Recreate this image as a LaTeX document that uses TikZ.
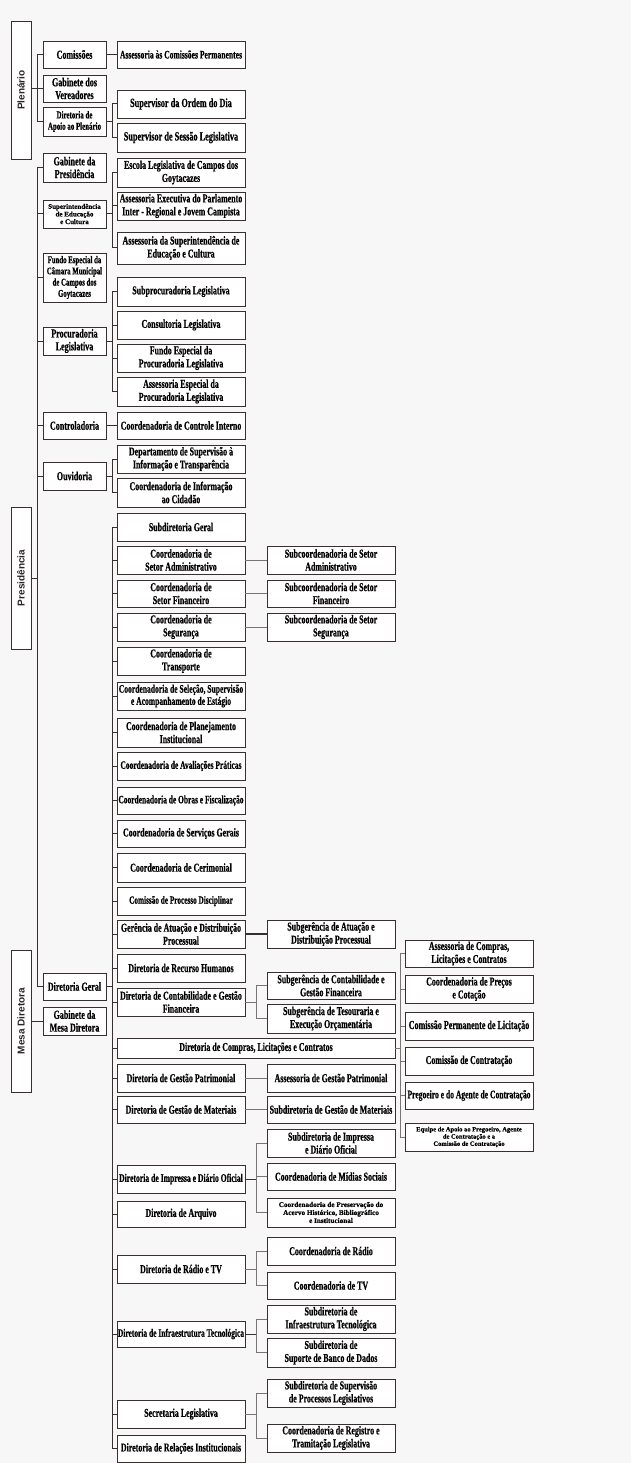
\documentclass[tikz,border=0pt]{standalone}
\usepackage{fontspec}
\usepackage{graphicx}
\newfontfamily\tnr[FakeStretch=0.66,BoldFeatures={FakeBold=0.6}]{Liberation Serif}
\newfontfamily\tnrw[BoldFeatures={FakeBold=0.4}]{Liberation Serif}
\newfontfamily\lsans{Liberation Sans}
\usetikzlibrary{shadows}
\definecolor{lc}{RGB}{58,46,46}
\definecolor{lg}{RGB}{125,115,115}
\definecolor{bg}{RGB}{247,247,247}
\tikzset{
 box/.style={draw=lc, line width=0.9pt, fill=white, inner sep=0.3pt, align=center, text=black,
   drop shadow={shadow xshift=0.8pt, shadow yshift=-1pt, opacity=0.22}},
 h/.style={minimum height=#1pt},
 fs/.style 2 args={font=\tnr\bfseries\fontsize{#1}{#2}\selectfont},
 fw/.style 2 args={font=\tnrw\bfseries\fontsize{#1}{#2}\selectfont},
 cA/.style={box, fs={12.2}{12.8}, minimum width=63pt, h=28},
 cB/.style={box, fs={12}{13}, minimum width=128pt, h=28},
 cC/.style={cB},
 cD/.style={cB},
 vlab/.style={box, minimum width=20pt, text=black!85, font=\lsans\bfseries\fontsize{10}{11}\selectfont},
 ln/.style={draw=lc, line width=1pt},
 lt/.style={draw=lg, line width=0.6pt},
 lk/.style={draw=lc, line width=1.8pt},
}
\begin{document}
\begin{tikzpicture}[x=1pt,y=-1pt]
\useasboundingbox (0,0) rectangle (631,1463);
\fill[bg] (0,0) rectangle (631,1463);
\coordinate (tp) at (37,0);
\coordinate (bA) at (112,0);
\coordinate (bB) at (256,0);
\coordinate (bC) at (400,0);
% vertical labels
\node[vlab, h=138] (plen) at (21,90) {\rotatebox{90}{Plenário}};
\node[vlab, h=142] (pres) at (21,578) {\rotatebox{90}{Presidência}};
\node[vlab, h=142] (mesa) at (21,1021) {\rotatebox{90}{Mesa Diretora}};
% column A
\node[cA, h=27] (comis) at (74.5,54.5) {Comissões};
\node[cA, h=27] (gabver) at (74.5,88.5) {Gabinete dos\\Vereadores};
\node[cA, h=29, fs={10.5}{11.3}] (dirapoio) at (74.5,121.5) {Diretoria de\\Apoio ao Plenário};
\node[cA, h=29] (gabpres) at (74.5,167.5) {Gabinete da\\Presidência};
\node[cA, fw={7}{7.6}] (superint) at (74.5,214) {Superintendência\\de Educação\\e Cultura};
\node[cA, h=49, fs={10.3}{11.2}] (fundo) at (74.5,277.5) {Fundo Especial da\\Câmara Municipal\\de Campos dos\\Goytacazes};
\node[cA] (procur) at (74.5,341) {Procuradoria\\Legislativa};
\node[cA, h=27] (control) at (74.5,425.5) {Controladoria};
\node[cA] (ouvid) at (74.5,476) {Ouvidoria};
\node[cA, h=27] (dirgeral) at (74.5,986.5) {Diretoria Geral};
\node[cA] (gabmesa) at (74.5,1021) {Gabinete da\\Mesa Diretora};
% column B
\node[cB, h=27, fs={11.5}{12.5}] (asscom) at (181,54.5) {Assessoria às Comissões Permanentes};
\node[cB, fs={12.5}{13}] (supord) at (181,104) {Supervisor da Ordem do Dia};
\node[cB, h=29, fs={12.5}{13}] (supses) at (181,137.5) {Supervisor de Sessão Legislativa};
\node[cB, h=29] (escola) at (181,172.5) {Escola Legislativa de Campos dos\\Goytacazes};
\node[cB] (assexec) at (181,206) {Assessoria Executiva do Parlamento\\Inter - Regional e Jovem Campista};
\node[cB, h=32] (asssup) at (181,248) {Assessoria da Superintendência de\\Educação e Cultura};
\node[cB, h=29] (subproc) at (181,291.5) {Subprocuradoria Legislativa};
\node[cB] (consult) at (181,325) {Consultoria Legislativa};
\node[cB] (fundoproc) at (181,358) {Fundo Especial da\\Procuradoria Legislativa};
\node[cB, h=29] (assesp) at (181,391.5) {Assessoria Especial da\\Procuradoria Legislativa};
\node[cB, h=27] (ctrlint) at (181,425.5) {Coordenadoria de Controle Interno};
\node[cB] (deptsup) at (181,459) {Departamento de Supervisão à\\Informação e Transparência};
\node[cB, h=29] (coordinf) at (181,492.5) {Coordenadoria de Informação\\ao Cidadão};
\node[cB] (subdirg) at (181,527) {Subdiretoria Geral};
\node[cB] (cadm) at (181,560) {Coordenadoria de\\Setor Administrativo};
\node[cB, h=27] (cfin) at (181,593.5) {Coordenadoria de\\Setor Financeiro};
\node[cB] (cseg) at (181,627) {Coordenadoria de\\Segurança};
\node[cB] (ctransp) at (181,661) {Coordenadoria de\\Transporte};
\node[cB, fs={11.5}{12.2}] (csel) at (181,696) {Coordenadoria de Seleção, Supervisão\\e Acompanhamento de Estágio};
\node[cB, h=29] (cplan) at (181,732.5) {Coordenadoria de Planejamento\\Institucional};
\node[cB, fs={11.3}{12.5}] (caval) at (181,766) {Coordenadoria de Avaliações Práticas};
\node[cB, h=27, fs={11.3}{12.5}] (cobras) at (181,800.5) {Coordenadoria de Obras e Fiscalização};
\node[cB, h=27] (cserv) at (181,833.5) {Coordenadoria de Serviços Gerais};
\node[cB, h=29] (cceri) at (181,867.5) {Coordenadoria de Cerimonial};
\node[cB, fs={11}{12}] (cproc) at (181,901) {Comissão de Processo Disciplinar};
\node[cB] (gerat) at (181,934) {Gerência de Atuação e Distribuição\\Processual};
\node[cB] (dirrh) at (181,968) {Diretoria de Recurso Humanos};
\node[cB] (dircont) at (181,1002) {Diretoria de Contabilidade e Gestão\\Financeira};
\node[box, fs={12}{13}, minimum width=278pt, h=20] (dircomp) at (256,1048) {Diretoria de Compras, Licitações e Contratos};
\node[cB] (dirpat) at (181,1078) {Diretoria de Gestão Patrimonial};
\node[cB, h=27] (dirmat) at (181,1109.5) {Diretoria de Gestão de Materiais};
\node[cB, fs={11.6}{12.5}] (dirimp) at (181,1179) {Diretoria de Impressa e Diário Oficial};
\node[cB, h=26] (dirarq) at (181,1214) {Diretoria de Arquivo};
\node[cB] (dirradio) at (181,1269) {Diretoria de Rádio e TV};
\node[cB, h=26, fs={11.3}{12.5}] (dirinfra) at (181,1334) {Diretoria de Infraestrutura Tecnológica};
\node[cB] (secleg) at (181,1414) {Secretaria Legislativa};
\node[cB, h=27] (dirrel) at (181,1448.5) {Diretoria de Relações Institucionais};
% column C
\node[cC] (sadm) at (331,560) {Subcoordenadoria de Setor\\Administrativo};
\node[cC, h=27] (sfin) at (331,593.5) {Subcoordenadoria de Setor\\Financeiro};
\node[cC] (sseg) at (331,627) {Subcoordenadoria de Setor\\Segurança};
\node[cC] (sgat) at (331,934) {Subgerência de Atuação e\\Distribuição Processual};
\node[cC, h=27] (sgcont) at (331,985.5) {Subgerência de Contabilidade e\\Gestão Financeira};
\node[cC, h=29] (sgtes) at (331,1018.5) {Subgerência de Tesouraria e\\Execução Orçamentária};
\node[cC] (assgp) at (331,1078) {Assessoria de Gestão Patrimonial};
\node[cC, h=27] (subdmat) at (331,1109.5) {Subdiretoria de Gestão de Materiais};
\node[cC] (subdimp) at (331,1143) {Subdiretoria de Impressa\\e Diário Oficial};
\node[cC, h=27] (cmidias) at (331,1176.5) {Coordenadoria de Mídias Sociais};
\node[cC, h=29, fw={7.2}{8}] (cpres) at (331,1212.5) {Coordenadoria de Preservação do\\Acervo Histórico, Bibliográfico\\e Institucional};
\node[cC] (crad) at (331,1251) {Coordenadoria de Rádio};
\node[cC, h=27] (ctv) at (331,1285.5) {Coordenadoria de TV};
\node[cC] (sdinfra) at (331,1319) {Subdiretoria de\\Infraestrutura Tecnológica};
\node[cC, h=29] (sdbanco) at (331,1352.5) {Subdiretoria de\\Suporte de Banco de Dados};
\node[cC] (sdsup) at (331,1393) {Subdiretoria de Supervisão\\de Processos Legislativos};
\node[cC] (creg) at (331,1438) {Coordenadoria de Registro e\\Tramitação Legislativa};
% column D
\node[cD, h=27] (dacomp) at (469,953.5) {Assessoria de Compras,\\Licitações e Contratos};
\node[cD] (dpreco) at (469,989) {Coordenadoria de Preços\\e Cotação};
\node[cD, fs={12.2}{13}] (dcpl) at (469,1026) {Comissão Permanente de Licitação};
\node[cD] (dccont) at (469,1061) {Comissão de Contratação};
\node[cD, h=27, fs={11.5}{12.5}] (dpreg) at (469,1095.5) {Pregoeiro e do Agente de Contratação};
\node[cD, fw={6.5}{7.2}] (dequipe) at (469,1137) {Equipe de Apoio ao Pregoeiro, Agente\\de Contratação e a\\Comissão de Contratação};
% ---- connectors: Plenário
\draw[ln] (plen.east |- gabver.west) -- (gabver.west);
\draw[ln] (comis.west) -- (tp |- comis.west) -- (tp |- dirapoio.west) -- (dirapoio.west);
\draw[ln] (comis.east) -- (asscom.west);
\draw[ln] (dirapoio.east) -- (bA |- dirapoio.east);
\draw[ln] (supord.west) -- (bA |- supord.west) -- (bA |- supses.west) -- (supses.west);
% Presidência
\draw[ln] (pres.east) -- (tp |- pres.east);
\draw[ln] (gabpres.west) -- (tp |- gabpres.west) -- (tp |- dirgeral.west) -- (dirgeral.west);
\foreach \n in {superint,fundo,procur,control,ouvid} \draw[ln] (tp |- \n.west) -- (\n.west);
\draw[ln] (superint.east) -- (bA |- superint.east);
\draw[ln] (escola.west) -- (bA |- escola.west) -- (bA |- asssup.west) -- (asssup.west);
\draw[ln] (bA |- assexec.west) -- (assexec.west);
\draw[ln] (procur.east) -- (bA |- procur.east);
\draw[ln] (subproc.west) -- (bA |- subproc.west) -- (bA |- assesp.west) -- (assesp.west);
\foreach \n in {consult,fundoproc} \draw[ln] (bA |- \n.west) -- (\n.west);
\draw[ln] (control.east) -- (ctrlint.west);
\draw[ln] (ouvid.east) -- (bA |- ouvid.east);
\draw[ln] (deptsup.west) -- (bA |- deptsup.west) -- (bA |- coordinf.west) -- (coordinf.west);
% Mesa Diretora
\draw[ln] (mesa.east |- gabmesa.west) -- (gabmesa.west);
% Diretoria Geral
\draw[ln] (dirgeral.east) -- (bA |- dirgeral.east);
\draw[ln] (subdirg.west) -- (bA |- subdirg.west) -- (bA |- dirrel.west) -- (dirrel.west);
\foreach \n in {cadm,cfin,cseg,ctransp,csel,cplan,caval,cobras,cserv,cceri,cproc,gerat,dirrh,dircont,dircomp,dirpat,dirmat,dirimp,dirarq,dirradio,dirinfra,secleg}
  \draw[ln] (bA |- \n.west) -- (\n.west);
% column B -> C
\draw[lt] (cadm.east) -- (sadm.west);
\draw[lt] (cfin.east) -- (sfin.west);
\draw[lt] (cseg.east) -- (sseg.west);
\draw[lk] (gerat.east) -- (sgat.west);
\draw[lt] (dircont.east) -- (bB |- dircont.east);
\draw[lt] (sgcont.west) -- (bB |- sgcont.west) -- (bB |- sgtes.west) -- (sgtes.west);
\draw[lt] (dirpat.east) -- (assgp.west);
\draw[lt] (dirmat.east) -- (subdmat.west);
\draw[ln] (dirimp.east) -- (bB |- dirimp.east);
\draw[lt] (subdimp.west) -- (bB |- subdimp.west) -- (bB |- cpres.west) -- (cpres.west);
\draw[lt] (bB |- cmidias.west) -- (cmidias.west);
\draw[lt] (dirradio.east) -- (bB |- dirradio.east);
\draw[lt] (crad.west) -- (bB |- crad.west) -- (bB |- ctv.west) -- (ctv.west);
\draw[ln] (dirinfra.east) -- (bB |- dirinfra.east);
\draw[lt] (sdinfra.west) -- (bB |- sdinfra.west) -- (bB |- sdbanco.west) -- (sdbanco.west);
\draw[lt] (secleg.east) -- (bB |- secleg.east);
\draw[lt] (sdsup.west) -- (bB |- sdsup.west) -- (bB |- creg.west) -- (creg.west);
% column D
\draw[lt] (dircomp.east) -- (bC |- dircomp.east);
\draw[lt] (dacomp.west) -- (bC |- dacomp.west) -- (bC |- dequipe.west) -- (dequipe.west);
\foreach \n in {dpreco,dcpl,dccont,dpreg} \draw[lt] (bC |- \n.west) -- (\n.west);
\end{tikzpicture}
\end{document}
